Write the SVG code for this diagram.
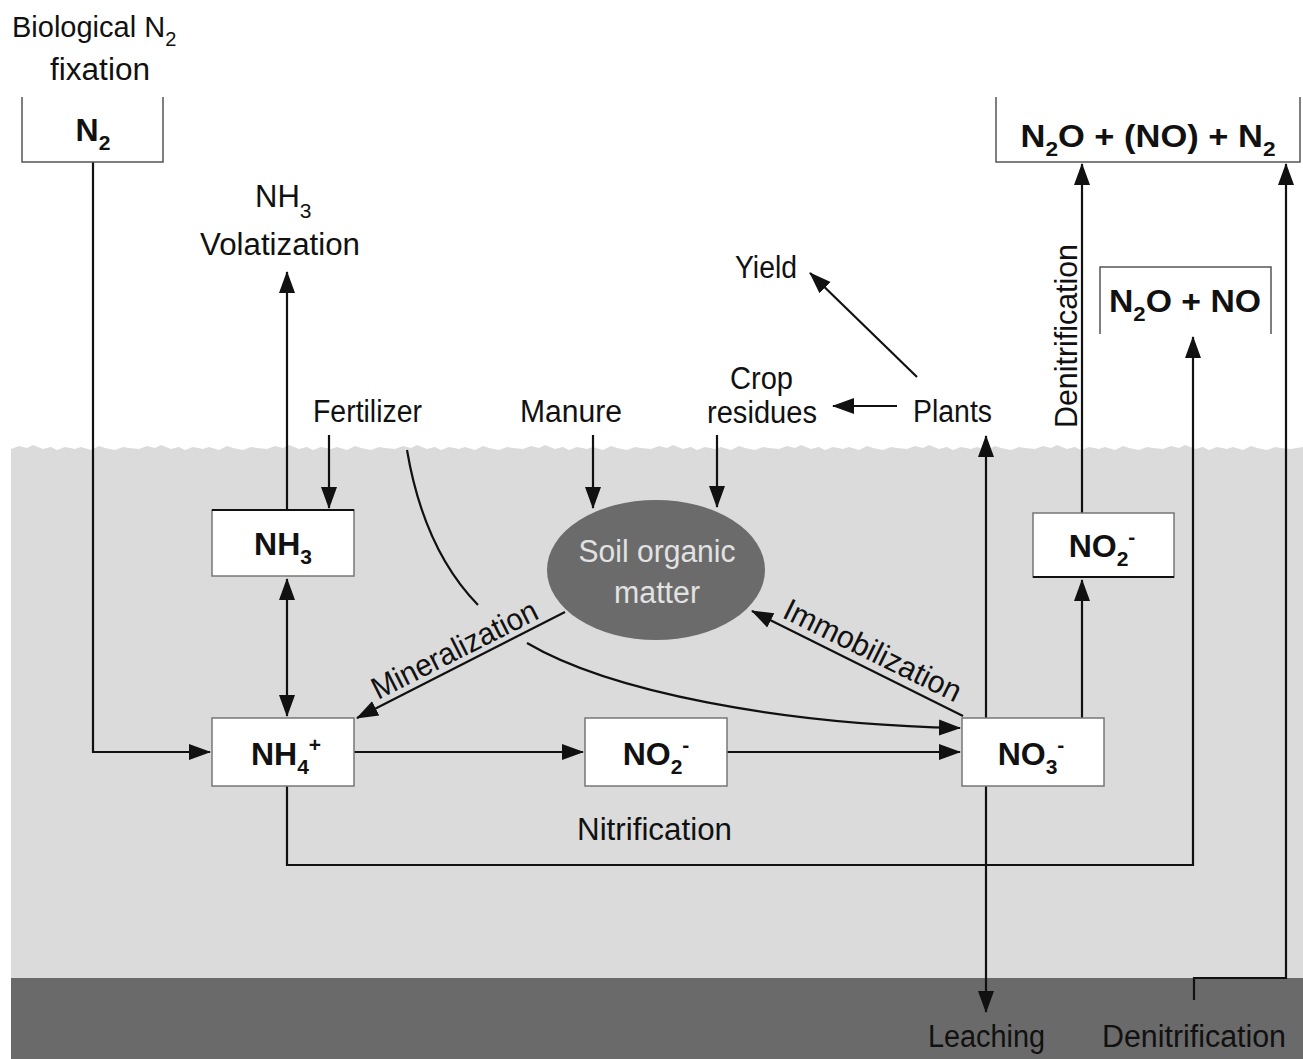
<svg xmlns="http://www.w3.org/2000/svg" width="1303" height="1059" viewBox="0 0 1303 1059">
<defs>
<style>
.t{font-family:"Liberation Sans",Arial,sans-serif;font-size:31px;fill:#111}
.b{font-family:"Liberation Sans",Arial,sans-serif;font-size:32px;font-weight:bold;fill:#111}
.s{font-size:21px}
.box{fill:#fff;stroke:#777;stroke-width:1.5}
.open{fill:none;stroke:#555;stroke-width:1.5}
.ln{fill:none;stroke:#111;stroke-width:2.2}
</style>
<marker id="ah" markerWidth="22" markerHeight="18" refX="21" refY="9" orient="auto-start-reverse" markerUnits="userSpaceOnUse">
<path d="M0,1 L22,9 L0,17 z" fill="#111"/>
</marker>
</defs>
<rect x="0" y="0" width="1303" height="1059" fill="#fff"/>
<g id="soil">
<path fill="#dbdbdb" d="M11,978 L11,449 l8,-3 l8,2 l6,-3 l10,4 l8,-2 l6,3 l8,-3 l10,2 l6,-2 l10,3 l8,-4 l6,2 l10,2 l8,-3 l6,1 l10,1 l8,-3 l8,2 l6,-3 l10,4 l8,-2 l6,3 l8,-3 l10,2 l6,-2 l10,3 l8,-4 l6,2 l10,2 l8,-3 l6,1 l10,1 l8,-3 l8,2 l6,-3 l10,4 l8,-2 l6,3 l8,-3 l10,2 l6,-2 l10,3 l8,-4 l6,2 l10,2 l8,-3 l6,1 l10,1 l8,-3 l8,2 l6,-3 l10,4 l8,-2 l6,3 l8,-3 l10,2 l6,-2 l10,3 l8,-4 l6,2 l10,2 l8,-3 l6,1 l10,1 l8,-3 l8,2 l6,-3 l10,4 l8,-2 l6,3 l8,-3 l10,2 l6,-2 l10,3 l8,-4 l6,2 l10,2 l8,-3 l6,1 l10,1 l8,-3 l8,2 l6,-3 l10,4 l8,-2 l6,3 l8,-3 l10,2 l6,-2 l10,3 l8,-4 l6,2 l10,2 l8,-3 l6,1 l10,1 l8,-3 l8,2 l6,-3 l10,4 l8,-2 l6,3 l8,-3 l10,2 l6,-2 l10,3 l8,-4 l6,2 l10,2 l8,-3 l6,1 l10,1 l8,-3 l8,2 l6,-3 l10,4 l8,-2 l6,3 l8,-3 l10,2 l6,-2 l10,3 l8,-4 l6,2 l10,2 l8,-3 l6,1 l10,1 l8,-3 l8,2 l6,-3 l10,4 l8,-2 l6,3 l8,-3 l10,2 l6,-2 l10,3 l8,-4 l6,2 l10,2 l8,-3 l6,1 l10,1 l8,-3 l8,2 l6,-3 l10,4 l8,-2 l6,3 l8,-3 l10,2 l6,-2 l10,3 l8,-4 l6,2 l10,2 l8,-3 l6,1 l10,1 L1303,447 L1303,978 z"/>
<rect x="11" y="978" width="1292" height="81" fill="#6a6a6a"/>
</g>
<g id="connectors">
<path class="ln" d="M93,162 V752 H210" marker-end="url(#ah)"/>
<path class="ln" d="M287,510 V272" marker-end="url(#ah)"/>
<path class="ln" d="M287,579 V716" marker-start="url(#ah)" marker-end="url(#ah)"/>
<path class="ln" d="M329,435 V508" marker-end="url(#ah)"/>
<path class="ln" d="M407,450 C418,515 442,568 478,605"/>
<path class="ln" d="M527,643 C610,692 780,724 960,728" marker-end="url(#ah)"/>
<path class="ln" d="M593,435 V508" marker-end="url(#ah)"/>
<path class="ln" d="M717,435 V507" marker-end="url(#ah)"/>
<path class="ln" d="M897,406 H833" marker-end="url(#ah)"/>
<path class="ln" d="M917,377 L810,273" marker-end="url(#ah)"/>
<path class="ln" d="M986,718 V436" marker-end="url(#ah)"/>
<path class="ln" d="M986,786 V1012" marker-end="url(#ah)"/>
<path class="ln" d="M354,752 H583" marker-end="url(#ah)"/>
<path class="ln" d="M727,752 H960" marker-end="url(#ah)"/>
<path class="ln" d="M565,612 L357,718" marker-end="url(#ah)"/>
<path class="ln" d="M963,716 L752,611" marker-end="url(#ah)"/>
<path class="ln" d="M1082,718 V580" marker-end="url(#ah)"/>
<path class="ln" d="M1082,513 V164" marker-end="url(#ah)"/>
<path class="ln" d="M287,786 V865 H1193 V337" marker-end="url(#ah)"/>
<path class="ln" d="M1194,1000 V978 H1286 V164" marker-end="url(#ah)"/>
</g>
<g id="n2">
<path class="open" d="M22,97 V162 H163 V97"/>
<text class="b" x="93" y="141" text-anchor="middle">N<tspan class="s" dy="9">2</tspan></text>
</g>
<g id="gases">
<path class="open" d="M996,97 V162 H1300 V97"/>
<text class="b" x="1148" y="147" text-anchor="middle" textLength="255" lengthAdjust="spacingAndGlyphs">N<tspan class="s" dy="9">2</tspan><tspan dy="-9">O + (NO) + N</tspan><tspan class="s" dy="9">2</tspan></text>
</g>
<g id="n2o-no">
<path class="open" d="M1100,334 V267 H1271 V334"/>
<text class="b" x="1185" y="312" text-anchor="middle" textLength="152" lengthAdjust="spacingAndGlyphs">N<tspan class="s" dy="9">2</tspan><tspan dy="-9">O + NO</tspan></text>
</g>
<g id="nh3">
<rect class="box" x="212" y="510" width="142" height="66"/>
<line x1="212" y1="510" x2="354" y2="510" stroke="#111" stroke-width="2"/>
<text class="b" x="283" y="555" text-anchor="middle">NH<tspan class="s" dy="9">3</tspan></text>
</g>
<g id="nh4">
<rect class="box" x="212" y="718" width="142" height="68"/>
<text class="b" x="286" y="765" text-anchor="middle">NH<tspan class="s" dy="9">4</tspan><tspan class="s" dy="-22">+</tspan></text>
</g>
<g id="no2-mid">
<rect class="box" x="585" y="718" width="142" height="68"/>
<text class="b" x="656" y="765" text-anchor="middle">NO<tspan class="s" dy="9">2</tspan><tspan class="s" dy="-22">-</tspan></text>
</g>
<g id="no3">
<rect class="box" x="962" y="718" width="142" height="68"/>
<text class="b" x="1031" y="765" text-anchor="middle">NO<tspan class="s" dy="9">3</tspan><tspan class="s" dy="-22">-</tspan></text>
</g>
<g id="no2-right">
<rect class="box" x="1033" y="513" width="141" height="64"/>
<line x1="1033" y1="577" x2="1174" y2="577" stroke="#111" stroke-width="2"/>
<text class="b" x="1102" y="557" text-anchor="middle">NO<tspan class="s" dy="9">2</tspan><tspan class="s" dy="-22">-</tspan></text>
</g>
<g id="som">
<ellipse cx="656" cy="570" rx="109" ry="70" fill="#6b6b6b"/>
<text class="t" x="657" y="562" text-anchor="middle" textLength="157" lengthAdjust="spacingAndGlyphs" style="fill:#e2e2e2">Soil organic</text>
<text class="t" x="657" y="603" text-anchor="middle" textLength="86" lengthAdjust="spacingAndGlyphs" style="fill:#e2e2e2">matter</text>
</g>
<g id="labels">
<text class="t" x="12" y="37" style="font-size:29px">Biological N<tspan style="font-size:20px" dy="9">2</tspan></text>
<text class="t" x="50" y="80" textLength="100" lengthAdjust="spacingAndGlyphs">fixation</text>
<text class="t" x="255" y="207">NH<tspan class="s" dy="11">3</tspan></text>
<text class="t" x="200" y="255" textLength="160" lengthAdjust="spacingAndGlyphs">Volatization</text>
<text class="t" x="313" y="422" textLength="109" lengthAdjust="spacingAndGlyphs">Fertilizer</text>
<text class="t" x="520" y="422" textLength="102" lengthAdjust="spacingAndGlyphs">Manure</text>
<text class="t" x="730" y="389" textLength="63" lengthAdjust="spacingAndGlyphs">Crop</text>
<text class="t" x="707" y="423" textLength="110" lengthAdjust="spacingAndGlyphs">residues</text>
<text class="t" x="913" y="422" textLength="79" lengthAdjust="spacingAndGlyphs">Plants</text>
<text class="t" x="735" y="278" textLength="62" lengthAdjust="spacingAndGlyphs">Yield</text>
<text class="t" x="577" y="840" textLength="155" lengthAdjust="spacingAndGlyphs">Nitrification</text>
<text class="t" x="928" y="1047" textLength="117" lengthAdjust="spacingAndGlyphs">Leaching</text>
<text class="t" x="1102" y="1047" textLength="184" lengthAdjust="spacingAndGlyphs">Denitrification</text>
<text class="t" transform="translate(1077,428) rotate(-90)" x="0" y="0" textLength="184" lengthAdjust="spacingAndGlyphs">Denitrification</text>
<text class="t" transform="translate(378,700) rotate(-26.8)" x="0" y="0" textLength="182" lengthAdjust="spacingAndGlyphs">Mineralization</text>
<text class="t" transform="translate(781,617) rotate(26.2)" x="0" y="0" textLength="194" lengthAdjust="spacingAndGlyphs">Immobilization</text>
</g>
</svg>
